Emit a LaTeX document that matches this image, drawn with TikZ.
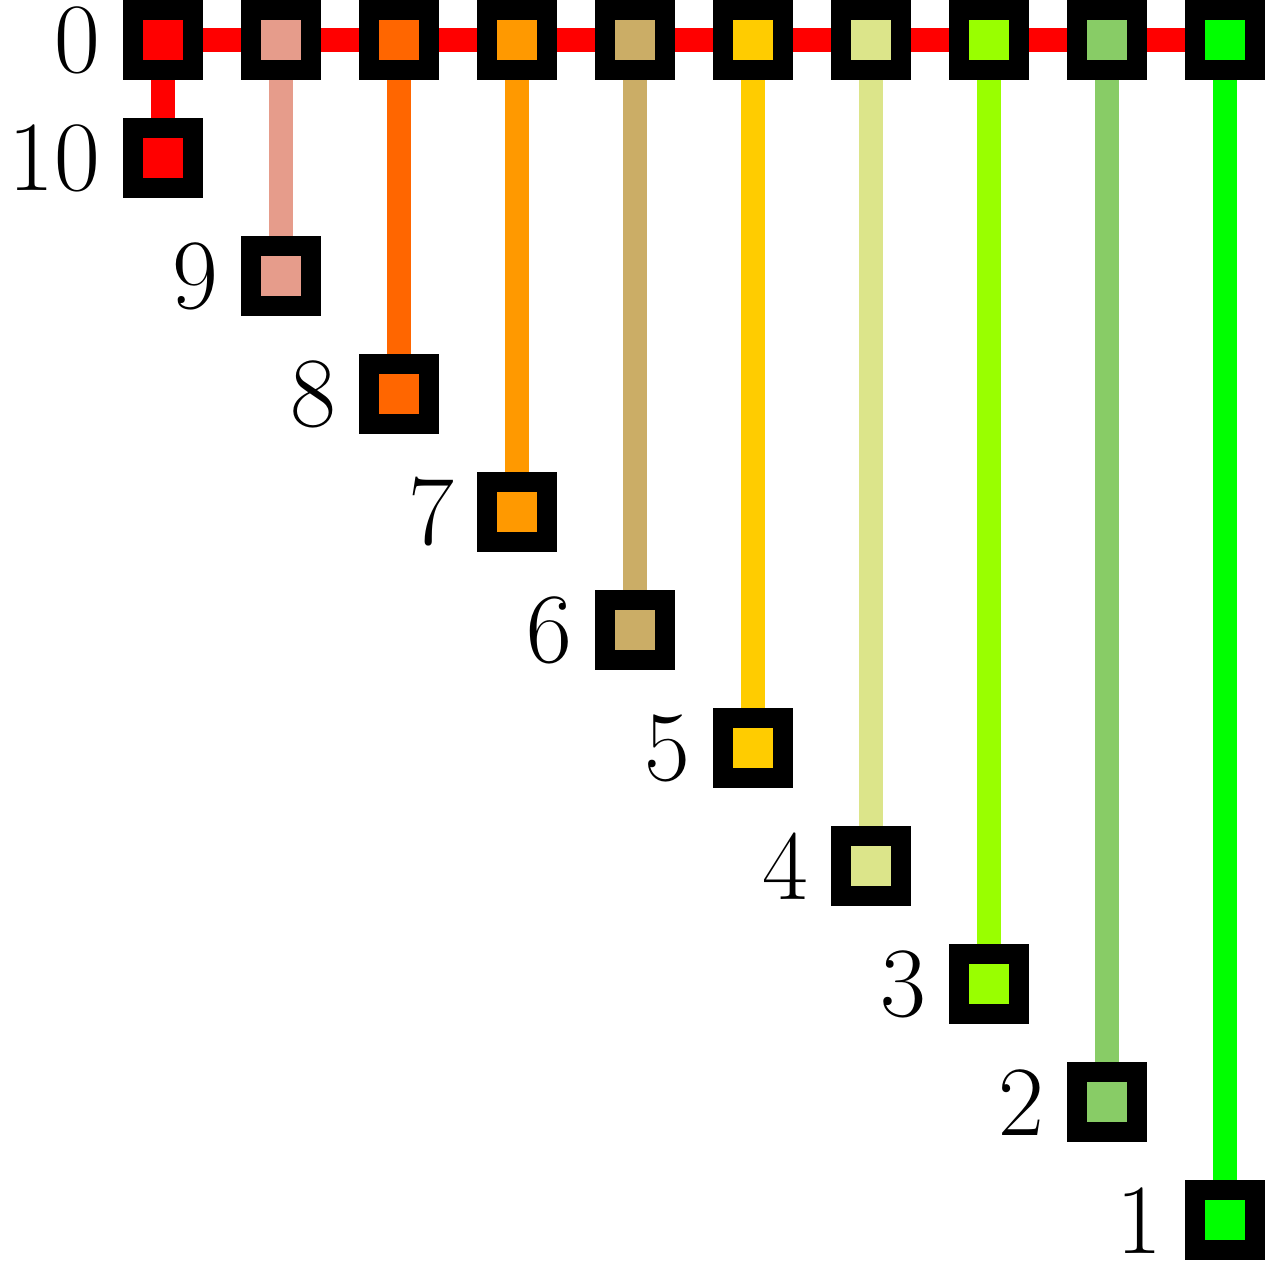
\documentclass[tikz,border=0pt]{standalone}
\usetikzlibrary{positioning,backgrounds}

\definecolor{cRed}{HTML}{FF0000}
\definecolor{cSalmon}{HTML}{E69C8B}
\definecolor{cDarkOrange}{HTML}{FF6600}
\definecolor{cOrange}{HTML}{FF9900}
\definecolor{cTan}{HTML}{CBAD66}
\definecolor{cGold}{HTML}{FFCC00}
\definecolor{cPale}{HTML}{DCE58A}
\definecolor{cLime}{HTML}{99FF00}
\definecolor{cMidGreen}{HTML}{88CC66}
\definecolor{cGreen}{HTML}{00FF00}

\tikzset{
    cell/.style={draw=black, fill=#1, line width=4.82pt, minimum size=0.508cm, inner sep=0pt},
    wire/.style={draw=#1, line width=5.79pt},
    num/.style={inner sep=0pt, font=\fontsize{24}{28}\selectfont},
}

\begin{document}
\begin{tikzpicture}
        \useasboundingbox (-1.381, 0.339) rectangle (9.347, -10.347);

        \foreach \c [count=\i from 0] in {cRed, cSalmon, cDarkOrange, cOrange, cTan, cGold, cPale, cLime, cMidGreen, cGreen} {
            \pgfmathtruncatemacro{\n}{10-\i}
            \node [cell=\c] (t\i) at ({\i}, 0) {};
            \node [cell=\c] (b\n) at ({\i}, {-\i-1}) {};
            \node [num, left=0.19cm of b\n] (l\n) {\n};
            \begin{pgfonlayer}{background}
                \draw [wire=\c] (t\i) -- (b\n);
            \end{pgfonlayer}
        }
        \node [num, left=0.19cm of t0] (l0) {0};

        \begin{pgfonlayer}{background}
            \draw [wire=cRed] (t0) -- (t9);
        \end{pgfonlayer}
    \end{tikzpicture}
\end{document}
